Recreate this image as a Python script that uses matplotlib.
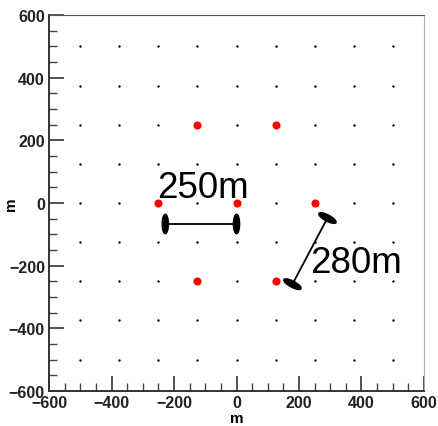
import numpy as np
import matplotlib
matplotlib.use('Agg')
import matplotlib.pyplot as plt
from matplotlib.patches import Ellipse

# grid of stations (m)
grid_pos = [-500, -375, -250, -125, 0, 125, 250, 375, 500]
red_x = [-125, 125, -250, 0, 250, -125, 125]
red_y = [250, 250, 0, 0, 0, -250, -250]

# spacing bars: (x0, y0, x1, y1) and labels
bar1 = (-228, -67, 0, -67)
bar2 = (179, -259, 291, -48)
label1 = '250m'
label2 = '280m'
label1_pos = (-253, 19)
label2_pos = (237, -221)

plt.rcParams['font.family'] = ['Liberation Sans', 'DejaVu Sans']

fig = plt.figure(figsize=(4.38, 4.27), dpi=100)
ax = fig.add_axes([0.112, 0.082, 0.856, 0.8805])

gx, gy = np.meshgrid(grid_pos, grid_pos)
ax.scatter(gx.ravel(), gy.ravel(), s=3, c='black', linewidths=0, zorder=2)
ax.scatter(red_x, red_y, s=34, c='red', linewidths=0, zorder=3)

# bars with elliptical end caps
for (x0, y0, x1, y1) in [bar1, bar2]:
    ax.plot([x0, x1], [y0, y1], color='black', lw=1.3, zorder=4)
    ang = np.degrees(np.arctan2(y1 - y0, x1 - x0)) - 90
    for (ex, ey) in [(x0, y0), (x1, y1)]:
        ax.add_patch(Ellipse((ex, ey), 62, 20, angle=ang, color='black', zorder=5))

ax.text(label1_pos[0], label1_pos[1], label1, fontsize=26.5, color='black', zorder=6)
ax.text(label2_pos[0], label2_pos[1], label2, fontsize=26.5, color='black', zorder=6)

ax.set_xlim(-600, 600)
ax.set_ylim(-600, 600)
ax.set_xticks(range(-600, 601, 200))
ax.set_yticks(range(-600, 601, 200))
ax.set_xticks(range(-600, 601, 50), minor=True)
ax.set_yticks(range(-600, 601, 50), minor=True)
ax.tick_params(which='major', direction='in', length=11, width=1.2, color='#333333', pad=3)
ax.tick_params(which='minor', direction='in', length=6, width=1.0, color='#444444')
ax.tick_params(top=False, right=False)
for lab in ax.get_xticklabels() + ax.get_yticklabels():
    lab.set_fontweight('bold')
    lab.set_fontsize(11.5)
    lab.set_color('#222222')

ax.set_xlabel('m', fontsize=11, fontweight='bold')
ax.set_ylabel('m', fontsize=11, fontweight='bold')
ax.xaxis.set_label_coords(0.5, -0.052)
ax.yaxis.set_label_coords(-0.083, 0.5)

ax.spines['left'].set_color('#333333')
ax.spines['bottom'].set_color('#333333')
ax.spines['left'].set_linewidth(1.4)
ax.spines['bottom'].set_linewidth(1.4)
ax.spines['top'].set_color('#555555')
ax.spines['right'].set_color('#aaaaaa')

fig.savefig('out.png', dpi=100)
